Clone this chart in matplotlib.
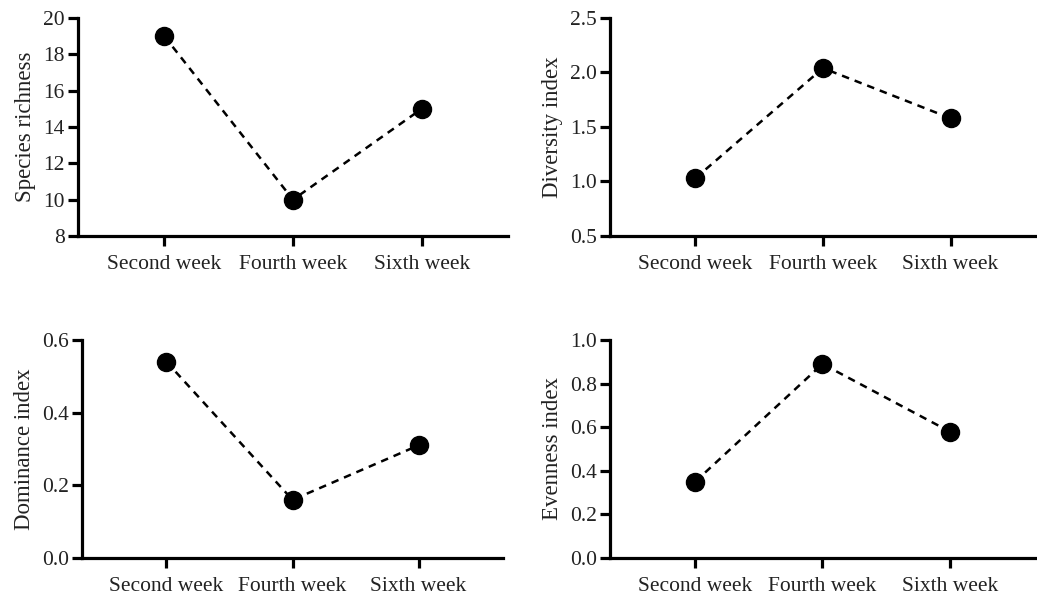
import matplotlib.pyplot as plt

plt.rcParams['font.family'] = ['Liberation Serif', 'DejaVu Serif']

# Data
weeks = ['Second week', 'Fourth week', 'Sixth week']
richness = [19, 10, 15]
diversity = [1.03, 2.04, 1.58]
dominance = [0.54, 0.16, 0.31]
evenness = [0.35, 0.89, 0.58]

panels = [
    (richness, 'Species richness', (8, 20), [8, 10, 12, 14, 16, 18, 20], '{:.0f}'),
    (diversity, 'Diversity index', (0.5, 2.5), [0.5, 1.0, 1.5, 2.0, 2.5], '{:.1f}'),
    (dominance, 'Dominance index', (0.0, 0.6), [0.0, 0.2, 0.4, 0.6], '{:.1f}'),
    (evenness, 'Evenness index', (0.0, 1.0), [0.0, 0.2, 0.4, 0.6, 0.8, 1.0], '{:.1f}'),
]

# axes rectangles in figure fractions (left, bottom, width, height)
rects = [
    (0.0752, 0.6034, 0.4147, 0.3664),
    (0.5882, 0.6034, 0.4108, 0.3664),
    (0.0791, 0.0622, 0.4060, 0.3664),
    (0.5882, 0.0622, 0.4098, 0.3664),
]

fig = plt.figure(figsize=(10.37, 5.95), dpi=100)

for (vals, label, ylim, yticks, fmt), rect in zip(panels, rects):
    ax = fig.add_axes(rect)
    x = list(range(len(weeks)))
    ax.plot(x, vals, color='black', linestyle=(0, (3.0, 2.4)), linewidth=1.8,
            marker='o', markersize=13, markerfacecolor='black',
            markeredgecolor='black', clip_on=False)
    ax.set_xlim(-0.67, 2.67)
    ax.set_ylim(*ylim)
    ax.set_xticks(x)
    ax.set_xticklabels(weeks)
    ax.set_yticks(yticks)
    ax.set_yticklabels([fmt.format(t) for t in yticks])
    ax.set_ylabel(label, fontsize=16.5, color='#222222', labelpad=5)
    for side in ['top', 'right']:
        ax.spines[side].set_visible(False)
    for side in ['left', 'bottom']:
        ax.spines[side].set_linewidth(2.3)
    ax.tick_params(axis='both', width=2.3, length=7, labelsize=15.5,
                   labelcolor='#222222')
    ax.tick_params(axis='y', pad=2.5)
    ax.tick_params(axis='x', pad=7)

fig.savefig('out.png', dpi=100)
